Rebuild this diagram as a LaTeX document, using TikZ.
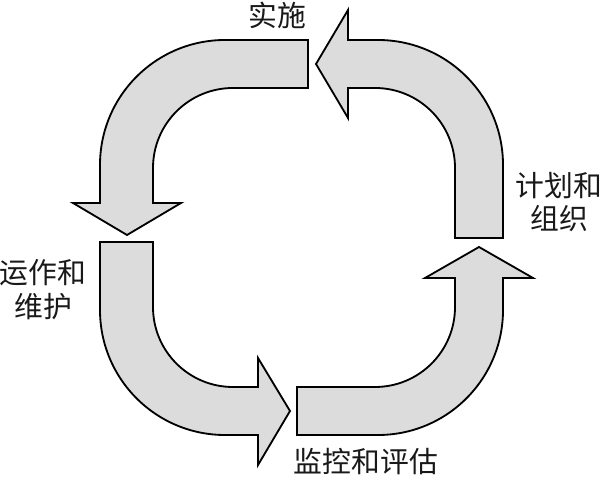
\documentclass[tikz,border=0pt]{standalone}
\usepackage{fontspec}
\newfontfamily\cjk{Noto Sans CJK SC}
\usepackage{tikz}
\definecolor{arrowfill}{RGB}{220,220,220}
\definecolor{labelgray}{RGB}{25,25,25}
\tikzset{
  block arrow/.style={
    draw=black,              % outline
    fill=arrowfill,          % light grey body
    line width=1.3pt,
    line join=miter
  },
  step label/.style={
    text=labelgray,
    font=\cjk\fontsize{20.5}{24}\selectfont,
    align=center,
    inner sep=0pt
  }
}

\begin{document}
\begin{tikzpicture}[x=0.025cm, y=-0.025cm]
    \useasboundingbox (0,0) rectangle (603,477);

    % Top left: from implementation down to operation
    \draw[block arrow] (308,40) -- (225,40) arc[start angle=270, end angle=180, radius=125]
        -- (100,203) -- (73,203) -- (127,235) -- (181,203) -- (153,203)
        -- (153,168) arc[start angle=180, end angle=270, radius=80] -- (308,88) -- cycle;

    % Top right: from planning up and left to implementation
    \draw[block arrow] (503,238) -- (503,165) arc[start angle=0, end angle=-90, radius=125]
        -- (348,40) -- (348,10) -- (316,64) -- (348,118) -- (348,88)
        -- (375,88) arc[start angle=-90, end angle=0, radius=80] -- (455,238) -- cycle;

    % Bottom left: from operation down and right to monitoring
    \draw[block arrow] (100,242) -- (100,310) arc[start angle=180, end angle=90, radius=125]
        -- (258,435) -- (258,465) -- (290,411) -- (258,358) -- (258,387)
        -- (233,387) arc[start angle=90, end angle=180, radius=80] -- (153,242) -- cycle;

    % Bottom right: from monitoring right and up to planning
    \draw[block arrow] (297,435) -- (378,435) arc[start angle=90, end angle=0, radius=125]
        -- (503,278) -- (533,278) -- (479,247) -- (425,278) -- (455,278)
        -- (455,307) arc[start angle=0, end angle=90, radius=80] -- (297,387) -- cycle;

    % Labels
    \node[step label] (impl)  at (277,15)  {实施};
    \node[step label] (plan)  at (559,202) {计划和\\组织};
    \node[step label] (oper)  at (43,290)  {运作和\\维护};
    \node[step label] (monit) at (366,462) {监控和评估};
\end{tikzpicture}
\end{document}
